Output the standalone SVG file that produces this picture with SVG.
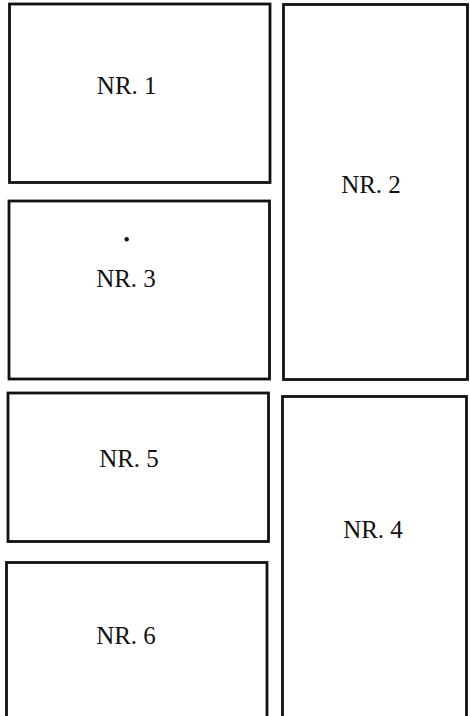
<svg xmlns="http://www.w3.org/2000/svg" width="470" height="716" viewBox="0 0 470 716">
<style>
.box{fill:#fff;stroke:#111;stroke-width:2.8}
.lbl{font-family:"Liberation Serif","Times New Roman",serif;font-size:25px;fill:#111;text-anchor:middle}
</style>
<rect width="470" height="716" fill="#fff"/>
<g id="nr1"><rect class="box" x="9.5" y="4" width="260.5" height="178.5"/><text class="lbl" x="126.7" y="94">NR. 1</text></g>
<g id="nr2"><rect class="box" x="283.5" y="4.5" width="184" height="375"/><text class="lbl" x="371" y="192.5">NR. 2</text></g>
<g id="nr3"><rect class="box" x="9" y="201" width="260.5" height="178"/><circle cx="126.7" cy="239.3" r="2.2" fill="#111"/><text class="lbl" x="126" y="287">NR. 3</text></g>
<g id="nr5"><rect class="box" x="8" y="393" width="260.5" height="148.5"/><text class="lbl" x="129" y="466.5">NR. 5</text></g>
<g id="nr4"><rect class="box" x="282.5" y="396.5" width="184" height="330"/><text class="lbl" x="373" y="537.5">NR. 4</text></g>
<g id="nr6"><rect class="box" x="6.5" y="562.5" width="260.5" height="165"/><text class="lbl" x="126" y="644">NR. 6</text></g>
<g id="connectors"/>
</svg>
